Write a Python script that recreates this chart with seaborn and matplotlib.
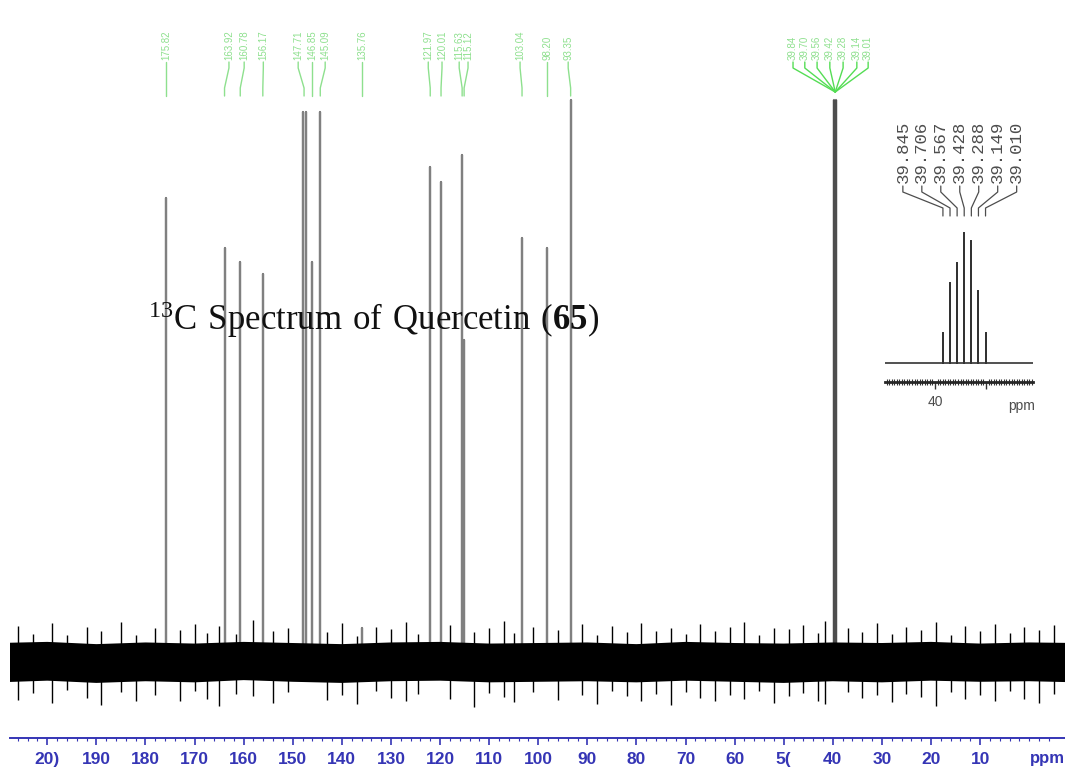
import numpy as np
import pandas as pd
import matplotlib
matplotlib.use("Agg")
import matplotlib.pyplot as plt
import matplotlib.transforms as mtransforms
import seaborn as sns

sns.set_theme(style="white")
plt.rcParams['font.family'] = ['Liberation Sans', 'DejaVu Sans']
plt.rcParams['mathtext.fontset'] = 'custom'
plt.rcParams['mathtext.rm'] = 'Liberation Serif'
plt.rcParams['mathtext.bf'] = 'Liberation Serif:bold'

# main 13C peaks (ppm, intensity; tallest = 100)
peak_ppm = [175.8, 163.9, 160.7, 156.1, 148.0, 147.4, 146.1, 144.4, 135.9,
            122.0, 119.8, 115.5, 115.1, 103.3, 98.2, 93.4, 39.7, 39.3]
peak_int = [82.6, 73.7, 71.2, 69.0, 97.9, 97.9, 71.2, 97.9, 6.0,
            88.1, 85.4, 90.2, 57.3, 75.4, 73.7, 100.0, 100.0, 100.0]

# green peak-pick labels along the top
label_text = ["175.82", "163.92", "160.78", "156.17", "147.71", "146.85", "145.09",
              "135.76", "121.97", "120.01", "115.63", "115.12", "103.04", "98.20", "93.35"]
label_target = [175.8, 163.9, 160.7, 156.1, 147.7, 146.1, 144.4,
                135.9, 122.0, 119.8, 115.5, 115.1, 103.3, 98.2, 93.4]
label_x = [175.8, 163.0, 159.9, 156.0, 148.9, 146.1, 143.4,
           135.9, 122.4, 119.6, 116.1, 114.3, 103.7, 98.2, 93.9]
dmso_label_x = [48.1, 45.7, 43.2, 40.6, 37.9, 35.1, 32.8]

# DMSO-d6 septet (inset)
dmso_ppm = [39.845, 39.706, 39.567, 39.428, 39.288, 39.149, 39.010]
dmso_int = [30, 80, 100, 130, 122, 72, 30]
dmso_labels = ["39.845", "39.706", "39.567", "39.428", "39.288", "39.149", "39.010"]

# baseline noise envelope and spikes
noise_ppm = [210, 200, 190, 180, 170, 160, 150, 140, 130, 120, 110, 100,
             90, 80, 70, 60, 50, 40, 30, 20, 10, 0, -10]
noise_hi = [3.4, 3.6, 3.2, 3.5, 3.3, 3.6, 3.4, 3.2, 3.5, 3.6, 3.3, 3.4,
            3.5, 3.2, 3.6, 3.4, 3.3, 3.5, 3.4, 3.6, 3.3, 3.5, 3.4]
noise_lo = [-3.6, -3.3, -3.7, -3.4, -3.6, -3.2, -3.5, -3.7, -3.4, -3.3, -3.6, -3.5,
            -3.4, -3.6, -3.3, -3.5, -3.7, -3.4, -3.6, -3.3, -3.5, -3.4, -3.6]
spike_ppm = [206, 203, 199, 196, 192, 189, 185, 182, 178, 173,
             170, 167.5, 165, 161.5, 158, 154, 151, 143, 140, 137,
             133, 130, 127, 124.5, 118, 113, 110, 107, 105, 101,
             96, 91, 88, 85, 82, 79, 76, 73, 70, 67,
             64, 61, 58, 55, 52, 49, 46, 43, 41.5, 37,
             34, 31, 28, 25, 22, 19, 16, 13, 10, 7,
             4, 1, -2, -5]
spike_hi = [6.5, 5.0, 7.0, 4.8, 6.2, 5.5, 7.2, 4.9, 6.0, 5.8,
            6.8, 5.2, 6.4, 5.0, 7.5, 5.6, 6.1, 5.3, 6.9, 4.7,
            6.3, 5.9, 7.1, 5.0, 6.6, 5.4, 6.0, 7.3, 5.1, 6.2,
            5.7, 6.8, 4.9, 6.5, 5.3, 7.0, 5.6, 6.1, 5.0, 6.7,
            5.5, 6.3, 7.2, 4.8, 6.0, 5.9, 6.6, 5.2, 7.4, 6.1,
            5.4, 6.9, 5.0, 6.3, 5.7, 7.1, 4.9, 6.4, 5.5, 6.8,
            5.1, 6.2, 5.8, 6.6]
spike_lo = [-6.8, -5.5, -7.2, -5.0, -6.4, -7.6, -5.3, -6.9, -5.8, -7.0,
            -5.2, -6.5, -7.8, -5.6, -6.1, -7.3, -5.4, -6.7, -5.9, -7.5,
            -5.1, -6.3, -7.0, -5.7, -6.6, -8.0, -5.5, -6.2, -7.1, -5.3,
            -6.8, -5.9, -7.4, -5.2, -6.0, -6.9, -5.6, -7.7, -5.4, -6.3,
            -7.0, -5.8, -6.5, -5.1, -7.2, -6.1, -5.5, -6.9, -7.5, -5.3,
            -6.4, -5.9, -7.1, -5.6, -6.2, -7.8, -5.4, -6.6, -5.8, -7.0,
            -5.2, -6.5, -7.3, -5.7]

tick_vals = [200, 190, 180, 170, 160, 150, 140, 130, 120, 110, 100, 90, 80, 70, 60, 50, 40, 30, 20, 10]
tick_text = ["20)", "190", "180", "170", "160", "150", "140", "130", "120", "110",
             "100", "90", "80", "70", "60", "5(", "40", "30", "20", "10"]

blue = '#3535b5'
green = '#8ee08e'

fig = plt.figure(figsize=(10.65, 7.78), dpi=100)
ax = fig.add_axes([10 / 1065, 40 / 778, 1055 / 1065, 738 / 778])

# stick spectrum built from the peak list
xs, ys = [210.0], [0.0]
for p, h in sorted(zip(peak_ppm, peak_int), reverse=True):
    xs += [p, p, p]
    ys += [0.0, h, 0.0]
xs.append(-10.0)
ys.append(0.0)
main_df = pd.DataFrame({"ppm": xs, "int": ys})
sns.lineplot(data=main_df, x="ppm", y="int", sort=False, estimator=None,
             color='0.5', lw=1.6, ax=ax, zorder=1)
ax.vlines([39.5], 0, 100, color='0.3', lw=3.0, zorder=1)

# noise on top of the peak bases
ax.fill_between(noise_ppm, noise_lo, noise_hi, color='black', lw=0, zorder=3)
ax.vlines(spike_ppm, spike_lo, spike_hi, color='black', lw=1.0, zorder=3)

ax.set_xlim(207.6, -7.3)
ax.set_ylim(-13.5, 117.8)
ax.set_xlabel("")
ax.set_ylabel("")
for s in ['left', 'right', 'top']:
    ax.spines[s].set_visible(False)
ax.spines['bottom'].set_color(blue)
ax.spines['bottom'].set_linewidth(1.4)
ax.set_yticks([])
ax.set_xticks(tick_vals)
ax.set_xticklabels(tick_text)
ax.set_xticks(np.arange(206, -6, -2), minor=True)
ax.tick_params(axis='x', which='major', bottom=True, direction='out', length=5, width=1.2,
               color=blue, labelcolor=blue, labelsize=12.5, pad=5)
ax.tick_params(axis='x', which='minor', bottom=True, direction='out', length=2.5, width=0.8, color=blue)
for t in ax.get_xticklabels():
    t.set_fontweight('bold')
trans = mtransforms.blended_transform_factory(ax.transData, ax.transAxes)
ax.text(-0.2, (738 - 758) / 738, "ppm", transform=trans,
        color=blue, fontsize=12, fontweight='bold', ha='left', va='center', clip_on=False)

# green labels at top
def ypix(p):
    return (738 - p) / 738

for txt, lx, tx in zip(label_text, label_x, label_target):
    ax.text(lx, ypix(60), txt, rotation=90, fontsize=7, color=green, ha='center', va='bottom',
            transform=trans, clip_on=False)
    ax.plot([lx, lx, tx, tx], [ypix(62), ypix(68), ypix(88), ypix(96)], color=green, lw=1.0,
            transform=trans, clip_on=False)
for txt, lx in zip(dmso_labels, dmso_label_x):
    ax.text(lx, ypix(60), txt[:5], rotation=90, fontsize=7, color=green, ha='center', va='bottom',
            transform=trans, clip_on=False)
    ax.plot([lx, lx, 39.5], [ypix(62), ypix(68), ypix(92)], color='#55dd55', lw=1.0,
            transform=trans, clip_on=False)

# title
fig.text(148 / 1065, (778 - 330) / 778,
         r"$\mathrm{^{13}C\ Spectrum\ of\ Quercetin\ (}\mathbf{65}\mathrm{)}$",
         fontsize=25, color='#111111', ha='left', va='baseline')

# inset with the DMSO septet
axin = fig.add_axes([885 / 1065, (778 - 382) / 778, 148 / 1065, 167 / 778])
ixs, iys = [41.0], [0.0]
for p, h in zip(dmso_ppm, dmso_int):
    ixs += [p, p, p]
    iys += [0.0, h, 0.0]
ixs.append(38.0)
iys.append(0.0)
in_df = pd.DataFrame({"ppm": ixs, "int": iys})
sns.lineplot(data=in_df, x="ppm", y="int", sort=False, estimator=None, color='0.2', lw=1.2, ax=axin)
axin.set_xlim(40.98, 38.08)
axin.set_ylim(-19, 148)
axin.set_facecolor('none')
axin.set_xlabel("")
axin.set_ylabel("")
for s in ['left', 'right', 'top']:
    axin.spines[s].set_visible(False)
axin.spines['bottom'].set_color('0.15')
axin.spines['bottom'].set_linewidth(2.0)
axin.set_yticks([])
axin.set_xticks([40, 39])
axin.set_xticklabels(["40", ""])
axin.set_xticks(np.arange(40.95, 38.1, -0.05), minor=True)
axin.tick_params(axis='x', which='major', bottom=True, direction='out', length=5, width=1,
                 color='0.2', labelsize=10, labelcolor='0.3', pad=4)
axin.tick_params(axis='x', which='minor', bottom=True, direction='inout', length=4, width=0.8, color='0.2')
axin.text(38.3, -0.1, "ppm", transform=mtransforms.blended_transform_factory(axin.transData, axin.transAxes),
          fontsize=10, color='0.3', ha='center', va='top')

itrans = mtransforms.blended_transform_factory(axin.transData, axin.transAxes)
def iy(p):
    return (382 - p) / 167

in_label_x = np.linspace(40.63, 38.40, 7)
for txt, lx, px in zip(dmso_labels, in_label_x, dmso_ppm):
    axin.text(lx, iy(183), txt, rotation=90, fontsize=12.5, family='Liberation Mono', color='0.3',
              ha='center', va='bottom', transform=itrans, clip_on=False)
    axin.plot([lx, lx, px, px], [iy(186), iy(192), iy(208), iy(216)], color='0.3', lw=0.9,
              transform=itrans, clip_on=False)

fig.savefig("out.png", dpi=100, facecolor='white')
